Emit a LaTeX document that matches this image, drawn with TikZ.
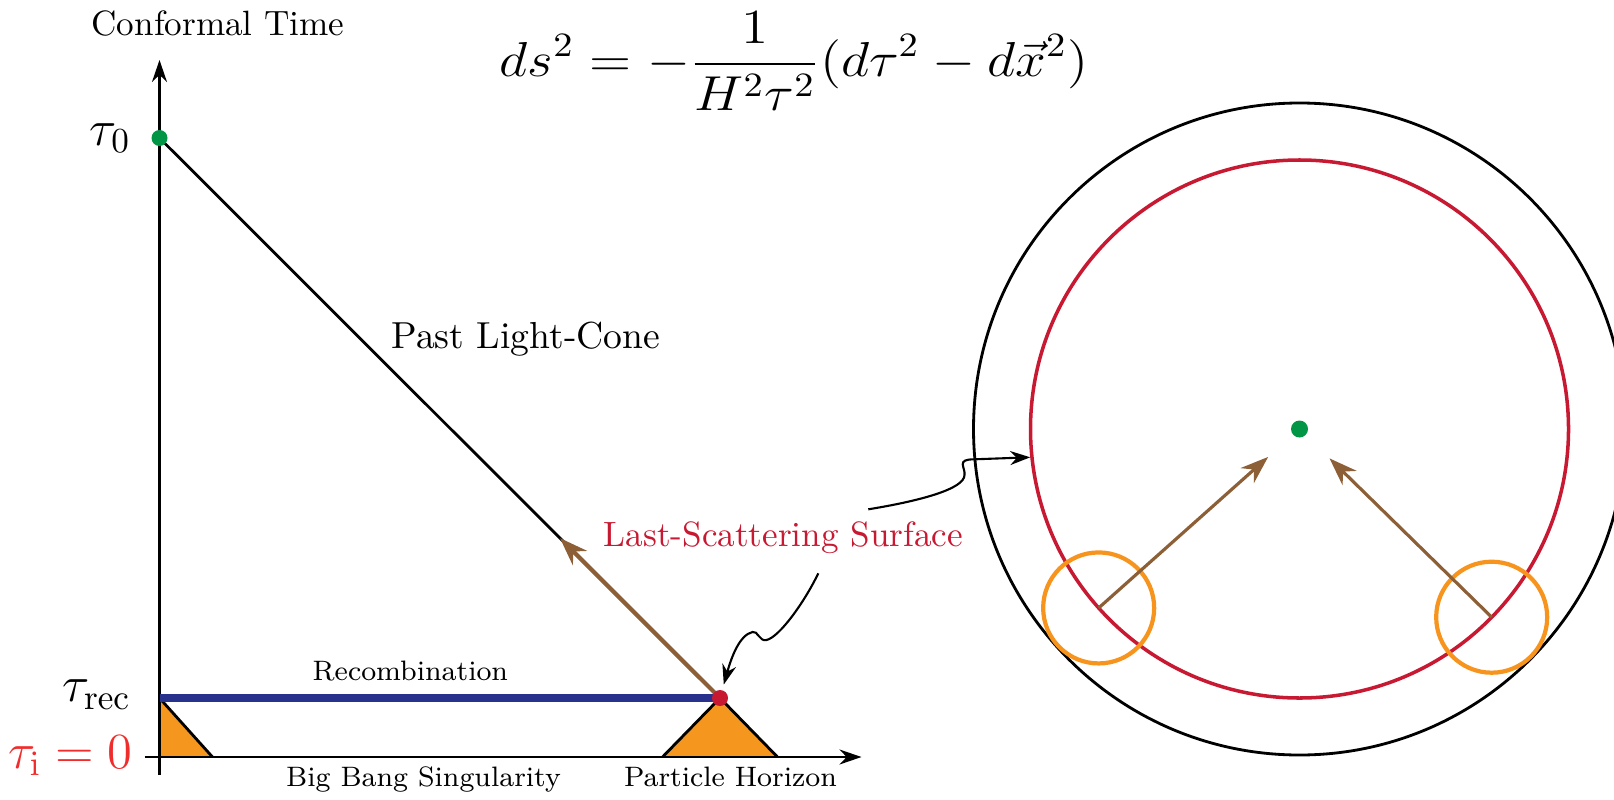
\documentclass[tikz,border=0pt]{standalone}
\usepackage{amsmath}
\usepackage{amssymb}
\usepackage{graphicx}
\usepackage{xcolor}
\usepackage{tikz}
\usetikzlibrary{arrows,arrows.meta,positioning,calc}
\definecolor{lssred}{RGB}{200,25,50}
\definecolor{tired}{RGB}{240,45,45}
\definecolor{recblue}{RGB}{40,50,140}
\definecolor{conefill}{RGB}{245,150,30}
\definecolor{ringorange}{RGB}{247,148,30}
\definecolor{raybrown}{RGB}{140,95,55}
\definecolor{dotgreen}{RGB}{0,150,70}
\tikzstyle{axis} = [semithick,-{Stealth[length=0.22cm,width=0.15cm]}]
\tikzstyle{ray} = [raybrown,line width=0.9pt,-{Stealth[length=0.28cm,width=0.2cm]}]
\tikzstyle{snake} = [semithick,-{Stealth[length=0.2cm,width=0.14cm]}]
\tikzstyle{dot} = [circle,inner sep=0pt,minimum size=0.16cm]

\begin{document}
\begin{tikzpicture}
    \useasboundingbox (-1.595,-0.42) rectangle (14.545,7.57);
    \coordinate (p0) at (0,6.19);
    \coordinate (prec) at (0,0.59);
    \coordinate (pls) at (5.605,0.59);
    % causal cones at recombination
    \fill[conefill] (prec) -- (0,0) -- (0.53,0) -- cycle;
    \draw[thick] (prec) -- (0.53,0);
    \fill[conefill] (5.03,0) -- (pls) -- (6.18,0) -- cycle;
    \draw[thick] (5.03,0) -- (pls) -- (6.18,0);
    % axes
    \coordinate (tbot) at (0,-0.18);
    \coordinate (ttop) at (0,6.97);
    \coordinate (xleft) at (-0.15,0);
    \coordinate (xright) at (7.02,0);
    \draw[axis] (tbot) -- (ttop);
    \draw[axis] (xleft) -- (xright);
    \node[anchor=base] (ctime) at (0.585,7.21) {Conformal Time};
    \node[anchor=base east, inner sep=0pt, font=\Large] (t0lab) at (-0.28,6.12) {$\tau_0$};
    \node[anchor=base east, inner sep=0pt, font=\Large] (treclab) at (-0.28,0.553) {$\tau_{\mathrm{rec}}$};
    \node[anchor=base east, inner sep=0pt, font=\Large, text=tired] (tilab) at (-0.26,-0.11) {$\tau_{\mathrm{i}}=0$};
    % light cone and recombination
    \draw[thick] (p0) -- (pls);
    \draw[recblue, line width=2.2pt] (prec) -- (pls);
    \draw[ray, line width=1.2pt] (pls) -- ($(pls)!0.2855!(p0)$);
    \node[dot, fill=dotgreen] (t0) at (p0) {};
    \node[dot, fill=lssred] (ls) at (pls) {};
    \node[anchor=base, font=\fontsize{10.7}{13}\selectfont] (plc) at (3.663,4.087) {Past Light-Cone};
    \node[anchor=base, font=\footnotesize] (recomb) at (2.509,0.763) {Recombination};
    \node[anchor=base, font=\footnotesize] (bbs) at (2.64,-0.297) {Big Bang Singularity};
    \node[anchor=base, font=\footnotesize] (ph) at (5.71,-0.297) {Particle Horizon};
    \node[anchor=base, text=lssred] (lss) at (6.238,2.103) {Last-Scattering Surface};
    \node[font=\Large] (metric) at (6.345,6.96)
        {\scalebox{1.09}[0.97]{$\displaystyle ds^2=-\frac{1}{H^2\tau^2}(d\tau^2-d\vec{x}^2)$}};
    % sky seen by the observer
    \coordinate (ctr) at (11.40,3.28);
    \node[circle, draw, thick, minimum size=6.52cm, inner sep=0pt] (sky) at (ctr) {};
    \node[circle, draw=lssred, line width=1pt, minimum size=5.38cm, inner sep=0pt] (shell) at (ctr) {};
    \foreach \ang/\nm in {221.7/L,315.6/R} {
        \node[circle, draw=ringorange, line width=1.2pt, minimum size=1.11cm, inner sep=0pt] (spot\nm) at ($(ctr)+(\ang:2.69)$) {};
        \draw[ray, shorten >=0.42cm] (spot\nm.center) -- (ctr);
    }
    \node[dot, fill=dotgreen, minimum size=0.17cm] (obs) at (ctr) {};
    % pointers from the label
    \coordinate (s1) at (6.588,1.837);
    \coordinate (s2) at (7.088,2.477);
    \draw[snake, shorten >=1.5pt] (s1) .. controls (6.45,1.55) and (6.2,1.2) .. (6.07,1.17)
        .. controls (6.0,1.15) and (5.98,1.27) .. (5.93,1.25)
        .. controls (5.8,1.22) and (5.72,1.0) .. (ls);
    \draw[snake] (s2) .. controls (7.6,2.56) and (8.05,2.68) .. (8.05,2.82)
        .. controls (8.06,2.9) and (7.96,2.977) .. (8.15,2.977) -- (shell.186.5);
\end{tikzpicture}
\end{document}
